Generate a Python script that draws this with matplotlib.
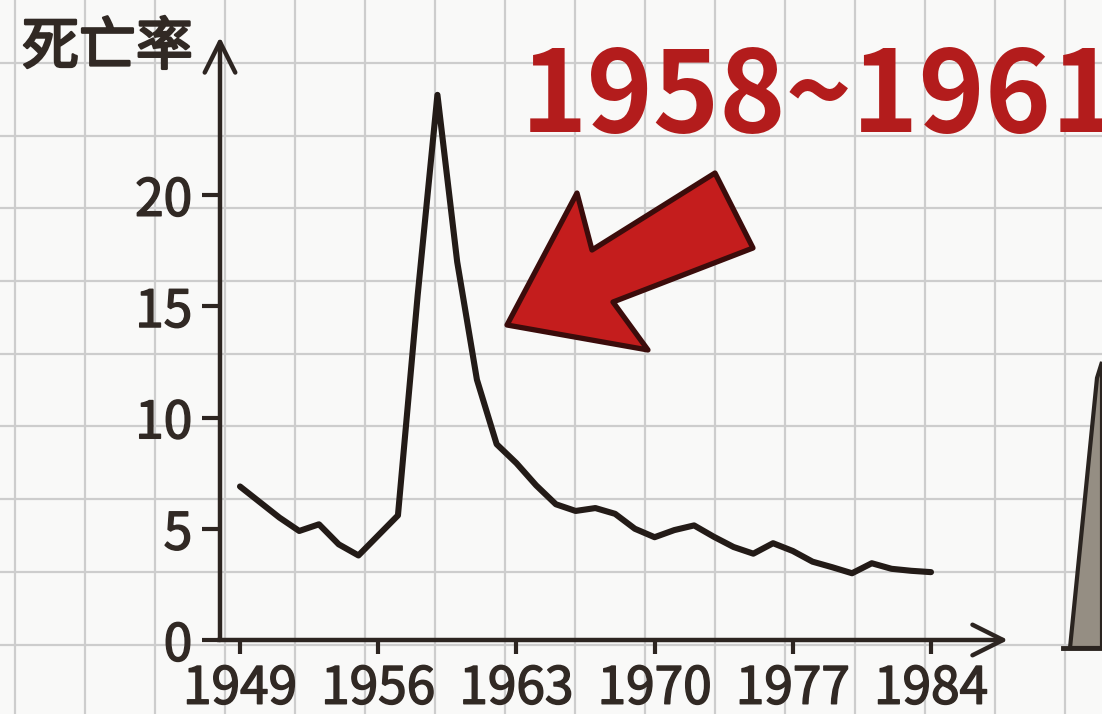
import numpy as np
import matplotlib
matplotlib.use("Agg")
import matplotlib.pyplot as plt
from matplotlib.patches import Polygon
import matplotlib.patheffects as pe

plt.rcParams['font.family'] = ['Noto Sans CJK SC', 'DejaVu Sans']

# ---- data ----
years = list(range(1949, 1985))
death_rate = [6.9, 6.2, 5.5, 4.9, 5.2, 4.3, 3.8, 4.7, 5.6, 15.5, 24.5, 17.0,
              11.7, 8.8, 7.95, 6.95, 6.1, 5.8, 5.93, 5.67, 5.0, 4.62, 4.94, 5.15,
              4.64, 4.18, 3.88, 4.35, 4.0, 3.52, 3.27, 3.0, 3.45, 3.2, 3.11, 3.05]
xticks = [1949, 1956, 1963, 1970, 1977, 1984]
yticks = [0, 5, 10, 15, 20]
ylabel = "死亡率"
headline = "1958~1961"

W, H = 1102, 714
fig = plt.figure(figsize=(W / 100, H / 100), dpi=100)
fig.patch.set_facecolor('#f9f9f8')

text_c = '#312924'
thicken = [pe.withStroke(linewidth=1.1, foreground=text_c)]

# ---- decorative background layer (pixel coords) ----
bg = fig.add_axes([0, 0, 1, 1], zorder=0)
bg.set_xlim(0, W)
bg.set_ylim(H, 0)
bg.axis('off')
grid_c = '#cdcdcd'
for gx in np.arange(14.5, W, 70.0):
    bg.axvline(gx, color=grid_c, lw=1.6)
for gy in np.arange(63, H, 72.7):
    bg.axhline(gy, color=grid_c, lw=1.6)

# red pointer arrow
arrow_pts = [(507, 325), (577, 193), (592, 250), (715, 173), (753, 248), (613, 302), (648, 350)]
bg.add_patch(Polygon(arrow_pts, closed=True, facecolor='#c41d1d', edgecolor='#3b0c0b',
                     lw=3.8, joinstyle='round', zorder=3))

# grey shape at the right edge (partially visible)
grey_pts = [(1070, 648), (1097, 378), (1102, 362), (1102, 648)]
bg.add_patch(Polygon(grey_pts, closed=True, facecolor='#958e83', edgecolor='#2a2420',
                     lw=3.0, zorder=3))
bg.plot([1063, 1102], [648, 648], color='#2a2420', lw=3.5, zorder=4)

# texts
bg.text(22, 48, ylabel, fontsize=41, color=text_c, ha='left', va='center', zorder=5,
        path_effects=[pe.withStroke(linewidth=1.8, foreground=text_c)])
bg.text(521, 99, headline, fontsize=81, fontweight='bold', color='#b31c1c',
        ha='left', va='center', zorder=5)

# ---- main chart ----
x0, x1 = 220, 1008
y0, y1 = 640, 37
px_per_year = (931 - 240) / 35.0
px_per_unit = (640 - 195) / 20.0
ax = fig.add_axes([x0 / W, (H - y0) / H, (x1 - x0) / W, (y0 - y1) / H], zorder=2)
ax.patch.set_alpha(0)
ax.set_xlim(1949 - (240 - x0) / px_per_year, 1949 + (x1 - 240) / px_per_year)
ax.set_ylim(0, (y0 - y1) / px_per_unit)
for s in ax.spines.values():
    s.set_visible(False)

axis_c = '#2d2521'
ax.plot(years, death_rate, color='#231b17', lw=4.4, solid_joinstyle='round',
        solid_capstyle='round', zorder=3)

arrow_kw = dict(arrowstyle='->,head_length=0.4,head_width=0.2', lw=3.2, color=axis_c,
                shrinkA=0, shrinkB=0, mutation_scale=55, capstyle='round', joinstyle='round')
ax.annotate('', xy=(1, 0), xytext=(-0.003, 0), xycoords='axes fraction',
            arrowprops=arrow_kw, annotation_clip=False)
ax.annotate('', xy=(0, 1), xytext=(0, 0), xycoords='axes fraction',
            arrowprops=arrow_kw, annotation_clip=False)

ax.set_xticks(xticks)
ax.set_xticklabels([str(t) for t in xticks])
ax.set_yticks(yticks)
ax.set_yticklabels([str(t) for t in yticks])
ax.tick_params(axis='x', direction='out', length=10, width=3, color=axis_c,
               labelsize=37, labelcolor=text_c, pad=6)
ax.tick_params(axis='y', direction='out', length=13, width=3, color=axis_c,
               labelsize=37, labelcolor=text_c, pad=7)
for lab in ax.get_xticklabels() + ax.get_yticklabels():
    lab.set_path_effects(thicken)

fig.savefig('out.png', dpi=100, facecolor=fig.get_facecolor())
